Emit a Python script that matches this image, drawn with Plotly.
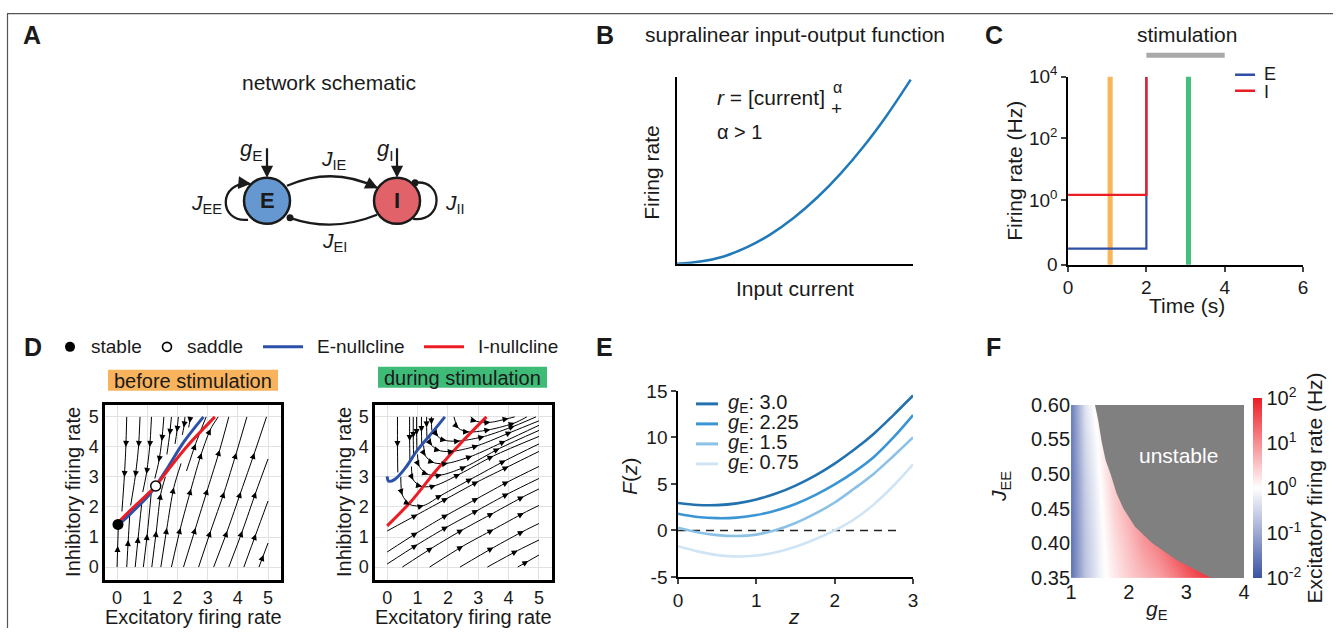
import plotly.graph_objects as go

W, H = 1339, 639
# the photographed page is slightly offset/scaled; map reference-pixel positions to page positions
OX, OY, SX, SY = 6.0, 13.3, 0.991, 0.962
def X(px): return (px - OX) / SX / W
def Y(py): return 1 - (py - OY) / SY / H
FONT = "Liberation Sans, Arial, Helvetica, sans-serif"
INK = "#1a1a1a"

# ---------------- data ----------------
# B: supralinear input-output function
io_current = [0.0, 0.1, 0.2, 0.3, 0.4, 0.5, 0.6, 0.7, 0.8, 0.9, 1.0]
io_rate = [0.0, 0.012, 0.04, 0.09, 0.16, 0.25, 0.36, 0.49, 0.64, 0.81, 1.0]

# C: firing rate traces
c_time = [0.0, 2.0, 2.0]
c_rate_E = [0.026, 0.026, 10000.0]
c_rate_I = [1.45, 1.45, 10000.0]
c_snap_times = [1.075, 3.075]
c_snap_colors = ["#fab45a", "#46be7d"]
c_stim_window = [2.0, 4.0]
c_xticks = [0, 2, 4, 6]
c_yticks = [10 ** -2.11, 1, 100, 10000]
c_yticktext = ["0", "10<sup>0</sup>", "10<sup>2</sup>", "10<sup>4</sup>"]

# D: phase planes
d_ticks = [0, 1, 2, 3, 4, 5]
before_E_null_x = [0.1, 0.5, 1.0, 1.28, 1.7, 2.2, 2.86]
before_E_null_y = [1.45, 1.83, 2.33, 2.7, 3.35, 4.15, 5.0]
before_I_null_x = [0.05, 0.5, 1.0, 1.28, 1.7, 2.3, 3.24]
before_I_null_y = [1.5, 1.95, 2.42, 2.7, 3.25, 4.0, 5.0]
before_stable = (0.03, 1.42)
before_saddle = (1.28, 2.7)
during_E_null_x = [0.0, 0.05, 0.25, 0.6, 1.0, 1.5, 1.9]
during_E_null_y = [3.02, 2.86, 2.92, 3.3, 3.9, 4.5, 5.0]
during_I_null_x = [0.0, 0.8, 1.6, 2.4, 3.27]
during_I_null_y = [1.37, 2.2, 3.2, 4.1, 5.0]

before_streams = [
    [(0.32, 5.0), (0.29, 4.0), (0.24, 3.0), (0.16, 1.85)],
    [(0.76, 5.0), (0.71, 4.0), (0.6, 3.0), (0.45, 2.05)],
    [(1.14, 5.0), (1.08, 4.0), (0.97, 3.1), (0.85, 2.5)],
    [(1.55, 5.0), (1.48, 4.2), (1.38, 3.5), (1.25, 2.95)],
    [(1.8, 5.0), (1.74, 4.4), (1.65, 3.75)],
    [(2.03, 5.0), (1.98, 4.5), (1.92, 4.1)],
    [(2.25, 5.0), (2.21, 4.65), (2.16, 4.4)],
    [(2.42, 5.0), (2.4, 4.8), (2.37, 4.65)],
    [(0.0, 0.0), (0.02, 0.7), (0.04, 1.3)],
    [(0.32, 0.0), (0.37, 0.9), (0.42, 1.75)],
    [(0.6, 0.0), (0.7, 1.0), (0.82, 2.15)],
    [(0.87, 0.0), (1.0, 1.1), (1.13, 2.45)],
    [(1.15, 0.0), (1.3, 1.2), (1.45, 2.45), (1.6, 3.0)],
    [(1.45, 0.0), (1.65, 1.3), (1.88, 2.65), (2.12, 3.45)],
    [(1.8, 0.0), (2.1, 1.3), (2.45, 2.6), (2.8, 3.8), (3.1, 4.6), (3.35, 5.0)],
    [(2.2, 0.0), (2.6, 1.3), (3.0, 2.6), (3.4, 3.9), (3.7, 5.0)],
    [(2.7, 0.0), (3.1, 1.2), (3.55, 2.5), (3.95, 3.8), (4.3, 5.0)],
    [(3.2, 0.0), (3.65, 1.2), (4.1, 2.5), (4.55, 3.8), (4.95, 5.0)],
    [(3.7, 0.0), (4.15, 1.2), (4.6, 2.5), (5.0, 3.6)],
    [(4.2, 0.0), (4.6, 1.1), (5.0, 2.2)],
    [(4.7, 0.0), (5.0, 0.8)],
    [(2.3, 3.2), (2.6, 4.1), (2.95, 5.0)],
]
during_streams = [
    [(0.34, 5.0), (0.34, 4.0), (0.35, 3.15)],
    [(0.74, 5.0), (0.74, 4.2), (0.75, 3.55)],
    [(0.86, 5.0), (0.86, 4.3), (0.87, 3.72)],
    [(0.97, 5.0), (0.97, 4.4), (0.98, 3.88)],
    [(1.13, 5.0), (1.13, 4.5), (1.14, 4.1)],
    [(1.3, 5.0), (1.3, 4.65), (1.31, 4.33)],
    [(1.46, 5.0), (1.46, 4.75), (1.47, 4.55)],
    [(0.45, 3.0), (0.5, 2.4), (0.75, 2.08), (1.2, 2.05), (1.8, 2.4), (2.8, 2.95), (3.9, 3.55), (5.0, 4.1)],
    [(0.8, 3.35), (0.86, 2.9), (1.15, 2.68), (1.6, 2.72), (2.4, 3.1), (3.5, 3.7), (5.0, 4.35)],
    [(1.0, 3.75), (1.06, 3.35), (1.35, 3.08), (1.8, 3.07), (2.6, 3.35), (3.7, 3.95), (5.0, 4.55)],
    [(1.2, 4.05), (1.26, 3.7), (1.55, 3.47), (2.0, 3.46), (2.8, 3.7), (3.9, 4.2), (5.0, 4.72)],
    [(1.4, 4.35), (1.47, 4.05), (1.75, 3.87), (2.2, 3.86), (3.0, 4.05), (4.1, 4.5), (5.0, 4.87)],
    [(1.6, 4.65), (1.67, 4.35), (1.95, 4.21), (2.4, 4.2), (3.2, 4.35), (4.2, 4.7), (4.9, 5.0)],
    [(2.2, 5.0), (2.35, 4.62), (2.7, 4.5), (3.4, 4.58), (4.2, 4.8), (4.6, 5.0)],
    [(2.75, 5.0), (2.95, 4.85), (3.4, 4.82), (4.0, 4.95), (4.2, 5.0)],
    [(0.0, 1.2), (1.0, 1.75), (2.0, 2.3), (3.0, 2.85), (4.0, 3.35), (5.0, 3.85)],
    [(0.0, 0.5), (1.0, 1.15), (2.0, 1.75), (3.0, 2.3), (4.0, 2.85), (5.0, 3.35)],
    [(0.0, 0.1), (1.0, 0.75), (2.0, 1.35), (3.0, 1.9), (4.0, 2.45), (5.0, 2.95)],
    [(0.5, 0.0), (1.5, 0.65), (2.5, 1.25), (3.5, 1.8), (4.5, 2.35), (5.0, 2.6)],
    [(1.4, 0.0), (2.5, 0.7), (3.5, 1.25), (4.5, 1.8), (5.0, 2.05)],
    [(2.4, 0.0), (3.5, 0.65), (4.5, 1.2), (5.0, 1.45)],
    [(3.3, 0.0), (4.3, 0.55), (5.0, 0.9)],
    [(4.3, 0.0), (5.0, 0.4)],
]

# E: F(z) curves
e_z = [0.0, 0.25, 0.5, 0.75, 1.0, 1.25, 1.5, 1.75, 2.0, 2.25, 2.5, 2.75, 3.0]
e_F_300 = [2.95, 2.74, 2.72, 2.91, 3.33, 3.96, 4.82, 5.89, 7.18, 8.69, 10.4, 12.4, 14.5]
e_F_225 = [1.8, 1.45, 1.32, 1.38, 1.65, 2.15, 2.85, 3.8, 4.95, 6.3, 7.9, 10.0, 12.4]
e_F_150 = [0.3, -0.2, -0.5, -0.6, -0.45, 0.05, 0.8, 1.8, 3.0, 4.5, 6.1, 8.0, 10.0]
e_F_075 = [-1.7, -2.25, -2.65, -2.8, -2.7, -2.35, -1.75, -0.95, 0.0, 1.2, 2.8, 4.8, 7.1]
e_labels = ["3.0", "2.25", "1.5", "0.75"]
e_colors = ["#2372b0", "#3a95d5", "#8bc1e7", "#cfe5f6"]
e_dash_z = [0.0, 2.85]
e_dash_F = [0.0, 0.0]
e_yticks = [-5, 0, 5, 10, 15]

# F: stability map
f_gE = [1.0, 1.25, 1.5, 1.75, 2.0, 2.25, 2.5, 2.75, 3.0, 3.25, 3.5, 3.75, 4.0]
f_JEE = [0.35, 0.40, 0.45, 0.50, 0.55, 0.60]
f_log_rate = [
    [-1.6, -0.68, -0.13, 0.18, 0.44, 0.62, 0.8, 1.05, 1.36, 1.65, 1.9, 2.0, 2.0],
    [-1.6, -0.65, -0.1, 0.28, 0.58, 0.9, 1.15, 1.5, 1.8, 2.0, 2.0, 2.0, 2.0],
    [-1.57, -0.6, -0.05, 0.4, 0.75, 1.1, 1.5, 1.8, 2.0, 2.0, 2.0, 2.0, 2.0],
    [-1.55, -0.52, 0.03, 0.5, 0.9, 1.3, 1.6, 2.0, 2.0, 2.0, 2.0, 2.0, 2.0],
    [-1.52, -0.42, 0.1, 0.6, 1.0, 1.4, 1.8, 2.0, 2.0, 2.0, 2.0, 2.0, 2.0],
    [-1.5, -0.3, 0.25, 0.7, 1.1, 1.5, 1.9, 2.0, 2.0, 2.0, 2.0, 2.0, 2.0],
]
f_bound_gE = [1.405, 1.415, 1.47, 1.53, 1.60, 1.69, 1.79, 1.91, 2.11, 2.40, 2.83, 3.43, 3.66]
f_bound_JEE = [0.61, 0.60, 0.578, 0.547, 0.520, 0.499, 0.472, 0.450, 0.424, 0.401, 0.376, 0.35, 0.34]
f_xticks = [1, 2, 3, 4]
f_yticks = [0.35, 0.40, 0.45, 0.50, 0.55, 0.60]
f_cbar_ticks = [-2, -1, 0, 1, 2]

BLUE_N = "#2b52a8"
RED_N = "#ec1c24"

fig = go.Figure()

# ---- B ----
fig.add_trace(go.Scatter(x=io_current, y=io_rate, mode="lines",
                         line=dict(color="#2079b8", width=2.5, shape="spline"),
                         xaxis="x", yaxis="y", hoverinfo="skip"))

# ---- C ----
fig.add_trace(go.Scatter(x=c_time, y=c_rate_E, mode="lines", line=dict(color="#2e4fa3", width=2.2),
                         xaxis="x2", yaxis="y2", hoverinfo="skip"))
fig.add_trace(go.Scatter(x=c_time, y=c_rate_I, mode="lines", line=dict(color=RED_N, width=2.2),
                         xaxis="x2", yaxis="y2", hoverinfo="skip"))

# ---- D ----
def stream_xy(streams):
    xs, ys = [], []
    for s in streams:
        xs += [p[0] for p in s] + [None]
        ys += [p[1] for p in s] + [None]
    return xs, ys

def stream_arrows(streams, xr, yr):
    anns = []
    for s in streams:
        if len(s) > 2:
            items = []
            for i in range(1, len(s) - 1):
                items.append((s[i][0], s[i][1], s[i + 1][0] - s[i - 1][0], s[i + 1][1] - s[i - 1][1]))
        else:
            (x0, y0), (x1, y1) = s
            items = [((x0 + x1) / 2, (y0 + y1) / 2, x1 - x0, y1 - y0)]
        for px, py, dx, dy in items:
            n = (dx * dx + dy * dy) ** 0.5
            anns.append(dict(x=px, y=py, ax=px - 0.22 * dx / n, ay=py - 0.22 * dy / n,
                             xref=xr, yref=yr, axref=xr, ayref=yr, showarrow=True,
                             arrowhead=2, arrowsize=1.0, arrowwidth=1.2, arrowcolor="black",
                             text="", standoff=0, borderpad=0, font=dict(size=1)))
    return anns

for streams, xa, ya in [(before_streams, "x3", "y3"), (during_streams, "x4", "y4")]:
    sx, sy = stream_xy(streams)
    fig.add_trace(go.Scatter(x=sx, y=sy, mode="lines", line=dict(color="black", width=1, shape="spline", smoothing=0.8),
                             xaxis=xa, yaxis=ya, hoverinfo="skip", connectgaps=False))

fig.add_trace(go.Scatter(x=before_E_null_x, y=before_E_null_y, mode="lines",
                         line=dict(color=BLUE_N, width=3, shape="spline"), xaxis="x3", yaxis="y3", hoverinfo="skip"))
fig.add_trace(go.Scatter(x=before_I_null_x, y=before_I_null_y, mode="lines",
                         line=dict(color=RED_N, width=3, shape="spline"), xaxis="x3", yaxis="y3", hoverinfo="skip"))
fig.add_trace(go.Scatter(x=[before_stable[0]], y=[before_stable[1]], mode="markers",
                         marker=dict(color="black", size=11), xaxis="x3", yaxis="y3", hoverinfo="skip",
                         cliponaxis=False))
fig.add_trace(go.Scatter(x=[before_saddle[0]], y=[before_saddle[1]], mode="markers",
                         marker=dict(color="white", size=10, line=dict(color="black", width=1.5)),
                         xaxis="x3", yaxis="y3", hoverinfo="skip"))
fig.add_trace(go.Scatter(x=during_E_null_x, y=during_E_null_y, mode="lines",
                         line=dict(color=BLUE_N, width=3, shape="spline"), xaxis="x4", yaxis="y4", hoverinfo="skip"))
fig.add_trace(go.Scatter(x=during_I_null_x, y=during_I_null_y, mode="lines",
                         line=dict(color=RED_N, width=3, shape="spline"), xaxis="x4", yaxis="y4", hoverinfo="skip"))

# ---- E ----
fig.add_trace(go.Scatter(x=e_dash_z, y=e_dash_F, mode="lines", line=dict(color="#222222", width=1.6, dash="8px,6px"),
                         xaxis="x5", yaxis="y5", hoverinfo="skip"))
for ys, col in zip([e_F_075, e_F_150, e_F_225, e_F_300], e_colors[::-1]):
    fig.add_trace(go.Scatter(x=e_z, y=ys, mode="lines", line=dict(color=col, width=2.6, shape="spline"),
                             xaxis="x5", yaxis="y5", hoverinfo="skip"))

# ---- F ----
fig.add_trace(go.Heatmap(
    x=f_gE, y=f_JEE, z=f_log_rate, zmin=-2, zmax=2, zsmooth="best",
    colorscale=[[0, "rgb(58,83,164)"], [0.5, "rgb(255,255,255)"], [1, "rgb(237,28,36)"]],
    xaxis="x6", yaxis="y6", hoverinfo="skip",
    colorbar=dict(x=X(1253), xanchor="left", y=Y(578), yanchor="bottom",
                  len=173 / SY, lenmode="pixels", thickness=9 / SX, thicknessmode="pixels",
                  outlinewidth=0, xpad=0, ypad=0, ticks="",
                  tickvals=f_cbar_ticks,
                  ticktext=["10<sup>%d</sup>" % v for v in f_cbar_ticks],
                  tickfont=dict(size=20, family=FONT, color=INK),
                  title=dict(text="Excitatory firing rate (Hz)", side="right",
                             font=dict(size=21, family=FONT, color=INK)))))
poly_x = f_bound_gE + [4.1, 4.1]
poly_y = f_bound_JEE + [0.34, 0.61]
fig.add_trace(go.Scatter(x=poly_x, y=poly_y, mode="lines", fill="toself", fillcolor="rgb(128,128,128)",
                         line=dict(width=0, color="rgb(128,128,128)"), xaxis="x6", yaxis="y6", hoverinfo="skip"))

# ---------------- axes ----------------
def base_axis(**kw):
    d = dict(showgrid=False, zeroline=False, showline=True, linecolor="black", linewidth=1.5,
             ticks="", tickfont=dict(size=19, family=FONT, color=INK), fixedrange=True)
    d.update(kw)
    return d

layout_axes = dict(
    xaxis=base_axis(domain=[X(677), X(913)], range=[0, 1.01], showticklabels=False, anchor="y"),
    yaxis=base_axis(domain=[Y(264), Y(77)], range=[0, 1.016], showticklabels=False, anchor="x"),
    xaxis2=base_axis(domain=[X(1068), X(1303)], range=[0, 6], tickvals=c_xticks, ticks="outside",
                     ticklen=5, tickwidth=1.5, anchor="y2"),
    yaxis2=base_axis(domain=[Y(265), Y(77)], type="log", range=[-2.11, 4], tickvals=c_yticks,
                     ticktext=c_yticktext, ticks="outside", ticklen=5, tickwidth=1.5, anchor="x2"),
    xaxis5=base_axis(domain=[X(678), X(913)], range=[0, 3], tickvals=[0, 1, 2, 3], ticks="outside",
                     ticklen=5, tickwidth=1.5, anchor="y5"),
    yaxis5=base_axis(domain=[Y(577), Y(391)], range=[-5, 15], tickvals=e_yticks,
                     ticktext=[str(v) for v in e_yticks], ticks="outside", ticklen=5, tickwidth=1.5,
                     anchor="x5"),
    xaxis6=base_axis(domain=[X(1071), X(1244)], range=[1, 4], tickvals=f_xticks, showline=False,
                     tickfont=dict(size=20, family=FONT, color=INK), anchor="y6"),
    yaxis6=base_axis(domain=[Y(578), Y(405)], range=[0.35, 0.60], tickvals=f_yticks,
                     ticktext=["%.2f" % v for v in f_yticks], showline=False,
                     tickfont=dict(size=20, family=FONT, color=INK), anchor="x6"),
)
for n, (l, r) in zip([3, 4], [(105, 281), (375, 552)]):
    layout_axes["xaxis%d" % n] = base_axis(domain=[X(l), X(r)], range=[-0.4, 5.43], tickvals=d_ticks,
                                           showgrid=True, gridcolor="#e2e2e2", gridwidth=1, mirror=True,
                                           linewidth=2.5, tickfont=dict(size=18, family=FONT, color=INK),
                                           anchor="y%d" % n)
    layout_axes["yaxis%d" % n] = base_axis(domain=[Y(580), Y(405)], range=[-0.43, 5.4], tickvals=d_ticks,
                                           showgrid=True, gridcolor="#e2e2e2", gridwidth=1, mirror=True,
                                           linewidth=2.5, tickfont=dict(size=18, family=FONT, color=INK),
                                           anchor="x%d" % n)

# ---------------- shapes ----------------
shapes = []
# figure frame
shapes.append(dict(type="line", xref="paper", yref="paper", x0=X(7), x1=1.0, y0=Y(14), y1=Y(14),
                   line=dict(color="#555555", width=1.2)))
shapes.append(dict(type="line", xref="paper", yref="paper", x0=X(7.5), x1=X(7.5), y0=Y(14), y1=0,
                   line=dict(color="#555555", width=1.2)))

# A: schematic
def P(px, py):
    return "%.5f,%.5f" % (X(px), Y(py))
arc = dict(color=INK, width=2.3)
shapes.append(dict(type="path", xref="paper", yref="paper",
                   path="M %s Q %s %s" % (P(287, 186), P(333, 166), P(377, 188)), line=arc))
shapes.append(dict(type="path", xref="paper", yref="paper",
                   path="M %s Q %s %s" % (P(377, 215), P(333, 233), P(290, 218)), line=arc))
shapes.append(dict(type="path", xref="paper", yref="paper",
                   path="M %s C %s %s %s" % (P(248, 220), P(218, 223), P(218, 181), P(250, 184)), line=arc))
shapes.append(dict(type="path", xref="paper", yref="paper",
                   path="M %s C %s %s %s" % (P(413, 219), P(444, 223), P(444, 179), P(415, 183)), line=arc))
for cx, cy, col in [(267, 201, "#6598d0"), (397, 201, "#e2626a")]:
    shapes.append(dict(type="circle", xref="paper", yref="paper", x0=X(cx - 23), x1=X(cx + 23),
                       y0=Y(cy + 23), y1=Y(cy - 23), fillcolor=col, line=dict(color=INK, width=2.5)))
for cx, cy in [(290, 218), (415, 183)]:
    shapes.append(dict(type="circle", xref="paper", yref="paper", x0=X(cx - 3.5), x1=X(cx + 3.5),
                       y0=Y(cy + 3.5), y1=Y(cy - 3.5), fillcolor=INK, line=dict(color=INK, width=0)))

# C: snapshot bands and stimulation bar
for t, col in zip(c_snap_times, c_snap_colors):
    shapes.append(dict(type="rect", xref="x2", yref="y2 domain", x0=t - 0.065, x1=t + 0.065, y0=0, y1=1,
                       fillcolor=col, line=dict(width=0), layer="below"))
shapes.append(dict(type="rect", xref="x2", yref="paper", x0=c_stim_window[0], x1=c_stim_window[1],
                   y0=Y(58), y1=Y(53), fillcolor="#a9a9a9", line=dict(width=0)))
# C legend
for yy, col in [(75, "#2e4fa3"), (91, RED_N)]:
    shapes.append(dict(type="line", xref="paper", yref="paper", x0=X(1235), x1=X(1255), y0=Y(yy), y1=Y(yy),
                       line=dict(color=col, width=2.5)))

# D legend
shapes.append(dict(type="circle", xref="paper", yref="paper", x0=X(65), x1=X(75), y0=Y(352), y1=Y(342),
                   fillcolor="black", line=dict(width=0)))
shapes.append(dict(type="circle", xref="paper", yref="paper", x0=X(162.5), x1=X(171.5), y0=Y(351.5), y1=Y(342.5),
                   fillcolor="white", line=dict(color="black", width=1.6)))
shapes.append(dict(type="line", xref="paper", yref="paper", x0=X(263), x1=X(303), y0=Y(347), y1=Y(347),
                   line=dict(color=BLUE_N, width=3)))
shapes.append(dict(type="line", xref="paper", yref="paper", x0=X(424), x1=X(464), y0=Y(347), y1=Y(347),
                   line=dict(color=RED_N, width=3)))
shapes.append(dict(type="rect", xref="paper", yref="paper", x0=X(108), x1=X(278), y0=Y(391), y1=Y(370),
                   fillcolor="#f9b35c", line=dict(width=0)))
shapes.append(dict(type="rect", xref="paper", yref="paper", x0=X(378), x1=X(547), y0=Y(388), y1=Y(367),
                   fillcolor="#3fbb78", line=dict(width=0)))

# E legend
for yy, col in zip([404, 424, 444, 464], e_colors):
    shapes.append(dict(type="line", xref="paper", yref="paper", x0=X(696), x1=X(718), y0=Y(yy), y1=Y(yy),
                       line=dict(color=col, width=3)))

# ---------------- annotations ----------------
ann = []
def txt(px, py, text, size=21, xanchor="center", angle=0, bold=False, color=INK):
    t = text
    if bold:
        t = "<b>%s</b>" % t
    ann.append(dict(x=X(px), y=Y(py), xref="paper", yref="paper", text=t, showarrow=False,
                    xanchor=xanchor, yanchor="middle", textangle=angle,
                    font=dict(size=size, family=FONT, color=color)))

# panel letters
for L, px, py in [("A", 32, 35), ("B", 605, 35), ("C", 994, 35), ("D", 33, 347), ("E", 604, 347), ("F", 993, 347)]:
    txt(px, py, L, size=25, bold=True)

# A
txt(329, 83, "network schematic")
txt(267, 201, "E", size=22, bold=True)
txt(397, 201, "I", size=22, bold=True)
txt(251, 150, "<i>g</i><sub>E</sub>", size=22)
txt(385, 150, "<i>g</i><sub>I</sub>", size=22)
txt(334, 160, "<i>J</i><sub>IE</sub>", size=21)
txt(334, 242, "<i>J</i><sub>EI</sub>", size=21)
txt(206, 204, "<i>J</i><sub>EE</sub>", size=21)
txt(455, 204, "<i>J</i><sub>II</sub>", size=21)
for hx, hy, ax_, ay_, w in [(267, 178, 0, -30, 2.2), (397, 178, 0, -30, 2.2),
                             (378, 188.5, -8, -3.8, 2.3), (251, 184, -9, -0.8, 2.3)]:
    ann.append(dict(x=X(hx), y=Y(hy), xref="paper", yref="paper", ax=ax_, ay=ay_, showarrow=True,
                    arrowhead=2, arrowsize=1.1, arrowwidth=w, arrowcolor=INK, text="", standoff=0,
                    borderpad=0, font=dict(size=1)))

# B
txt(795, 35, "supralinear input-output function")
txt(715, 98, "<i>r</i> = [current]", size=21, xanchor="left")
txt(837, 88, "α", size=16)
txt(836, 109, "+", size=19)
txt(715, 132, "α > 1", size=20, xanchor="left")
txt(652, 173, "Firing rate", angle=-90)
txt(795, 289, "Input current")

# C
txt(1187, 35, "stimulation")
txt(1015, 171, "Firing rate (Hz)", angle=-90)
txt(1187, 306, "Time (s)")
txt(1262, 74, "E", size=18, xanchor="left")
txt(1262, 92, "I", size=18, xanchor="left")

# D
txt(89, 347, "stable", size=19, xanchor="left")
txt(185, 347, "saddle", size=19, xanchor="left")
txt(315, 347, "E-nullcline", size=19, xanchor="left")
txt(476, 347, "I-nullcline", size=19, xanchor="left")
txt(193, 381, "before stimulation", size=20)
txt(462.5, 378, "during stimulation", size=20)
txt(73, 492, "Inhibitory firing rate", size=20, angle=-90)
txt(344, 492, "Inhibitory firing rate", size=20, angle=-90)
txt(193, 617, "Excitatory firing rate", size=20)
txt(463, 617, "Excitatory firing rate", size=20)
ann += stream_arrows(before_streams, "x3", "y3")
ann += stream_arrows(during_streams, "x4", "y4")

# E
for yy, lab in zip([404, 424, 444, 464], e_labels):
    txt(726, yy, "<i>g</i><sub>E</sub>: %s" % lab, size=20, xanchor="left")
txt(630, 477, "<i>F</i>(<i>z</i>)", angle=-90)
txt(794, 617, "<i>z</i>")

# F
txt(1178, 456, "unstable", color="white")
txt(1000, 487, "<i>J</i><sub>EE</sub>", angle=-90)
txt(1157, 610, "<i>g</i><sub>E</sub>")

fig.update_layout(width=W, height=H, margin=dict(l=0, r=0, t=0, b=0), autosize=False,
                  paper_bgcolor="white", plot_bgcolor="rgba(0,0,0,0)",
                  font=dict(family=FONT, color=INK, size=18), showlegend=False,
                  shapes=shapes, annotations=ann, **layout_axes)

pin_page = ("var d=document.querySelector('.plotly-graph-div');"
            "d.style.position='fixed';d.style.left='0px';d.style.top='0px';"
            "document.body.style.margin='0px';document.body.style.overflow='hidden';")
fig.write_html("out.html", post_script=pin_page, config={"displayModeBar": False})
